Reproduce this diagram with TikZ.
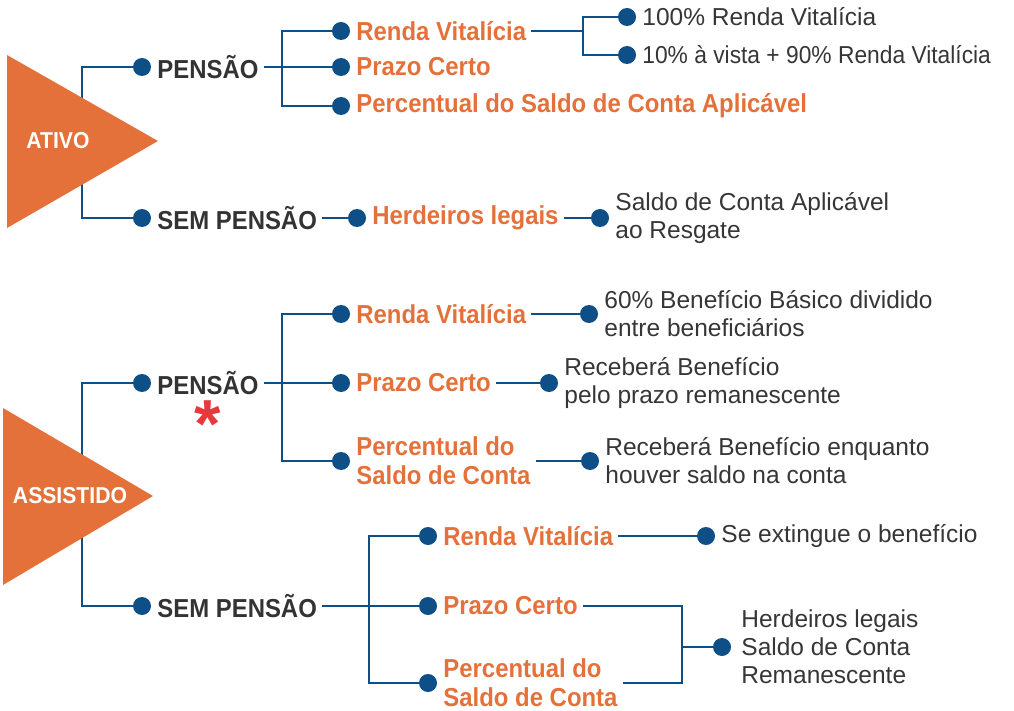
\documentclass[tikz,border=0pt]{standalone}
\usepackage{fontspec}
\setmainfont{Liberation Sans}
\newfontfamily\condfont{Liberation Sans}[FakeStretch=0.92]
\newfontfamily\narrowfont{Liberation Sans}[FakeStretch=0.93]
\usepackage{xcolor}
\usetikzlibrary{positioning}
\definecolor{linkblue}{HTML}{0F4F87}
\definecolor{rootorange}{HTML}{E37139}
\definecolor{optorange}{HTML}{E5713A}
\definecolor{darktext}{HTML}{333333}
\definecolor{infogray}{HTML}{363636}
\definecolor{astred}{HTML}{E8383D}
\tikzset{
  dot/.style={circle, fill=linkblue, inner sep=0pt, minimum size=18pt},
  link/.style={draw=linkblue, line width=2.5pt},
  root/.style={text=white, inner sep=0pt, font=\condfont\bfseries\fontsize{23}{26}\selectfont},
  main/.style={text=darktext, inner xsep=5pt, inner ysep=0pt, align=left, font=\condfont\bfseries\fontsize{26}{29}\selectfont},
  opt/.style={main, text=optorange},
  info/.style={text=infogray, inner xsep=5pt, inner ysep=0pt, align=left, font=\fontsize{24.5}{28}\selectfont},
}

\begin{document}
\begin{tikzpicture}[x=1pt, y=-1pt]
    \useasboundingbox (0,0) rectangle (1014,711);

    % ativo
    \coordinate (trunkA) at (82,141);
    \node[dot] (dPenA) at (142,67) {};
    \node[main, right=1pt of dPenA] (penA) {PENSÃO};
    \node[dot] (dSemA) at (142,218) {};
    \node[main, right=1pt of dSemA] (semA) {SEM PENSÃO};
    \coordinate (jPenA) at (282,67);
    \node[dot] (dRvA) at (341,31) {};
    \node[opt, right=1pt of dRvA] (rvA) {Renda Vitalícia};
    \node[dot] (dPcA) at (341,67) {};
    \node[opt, right=1pt of dPcA] (pcA) {Prazo Certo};
    \node[dot] (dPsA) at (341,106) {};
    \node[opt, right=1pt of dPsA] (psA) {Percentual do Saldo de Conta Aplicável};
    \coordinate (jRvA) at (583,36);
    \node[dot] (dRv100) at (627,17) {};
    \node[info, right=1pt of dRv100] (rv100) {100\% Renda Vitalícia};
    \node[dot] (dRv10) at (627,55) {};
    \node[info, right=1pt of dRv10, font=\narrowfont\fontsize{24.5}{28}\selectfont] (rv10) {10\% à vista + 90\% Renda Vitalícia};
    \node[dot] (dHlA) at (357,218) {};
    \node[opt, right=1pt of dHlA] (hlA) {Herdeiros legais};
    \node[dot] (dSaldoA) at (600,218) {};
    \node[info, right=1pt of dSaldoA] (saldoA) {Saldo de Conta Aplicável\\ao Resgate};

    % assistido
    \coordinate (trunkB) at (82,496);
    \node[dot] (dPenB) at (142,383) {};
    \node[main, right=1pt of dPenB] (penB) {PENSÃO};
    \node[text=astred, inner sep=0pt, font=\bfseries\fontsize{68}{68}\selectfont] (ast) at (208,424) {*};
    \node[dot] (dSemB) at (142,606) {};
    \node[main, right=1pt of dSemB] (semB) {SEM PENSÃO};
    \coordinate (jPenB) at (282,383);
    \node[dot] (dRvB) at (341,314) {};
    \node[opt, right=1pt of dRvB] (rvB) {Renda Vitalícia};
    \node[dot] (dPcB) at (341,383) {};
    \node[opt, right=1pt of dPcB] (pcB) {Prazo Certo};
    \node[dot] (dPsB) at (341,461) {};
    \node[opt, right=1pt of dPsB] (psB) {Percentual do\\Saldo de Conta};
    \node[dot] (dBasico) at (589,314) {};
    \node[info, right=1pt of dBasico] (basico) {60\% Benefício Básico dividido\\entre beneficiários};
    \node[dot] (dPrazo) at (549,383) {};
    \node[info, right=1pt of dPrazo] (prazo) {Receberá Benefício\\pelo prazo remanescente};
    \node[dot] (dEnq) at (590,461) {};
    \node[info, right=1pt of dEnq] (enq) {Receberá Benefício enquanto\\houver saldo na conta};

    \coordinate (jSemB) at (369,606);
    \node[dot] (dRvC) at (428,536) {};
    \node[opt, right=1pt of dRvC] (rvC) {Renda Vitalícia};
    \node[dot] (dPcC) at (428,606) {};
    \node[opt, right=1pt of dPcC] (pcC) {Prazo Certo};
    \node[dot] (dPsC) at (428,683) {};
    \node[opt, right=1pt of dPsC] (psC) {Percentual do\\Saldo de Conta};
    \node[dot] (dExt) at (706,536) {};
    \node[info, right=1pt of dExt] (ext) {Se extingue o benefício};
    \coordinate (jHer) at (682,647);
    \node[dot] (dHer) at (722,647) {};
    \node[info, right=5pt of dHer] (her) {Herdeiros legais\\Saldo de Conta\\Remanescente};

    % connectors
    \draw[link] (dPenA) -| (trunkA) |- (dSemA);
    \draw[link] (penA) -- (dPcA);
    \draw[link] (dRvA) -| (jPenA) |- (dPsA);
    \draw[link] (rvA) -- (rvA -| jRvA);
    \draw[link] (dRv100) -| (jRvA) |- (dRv10);
    \draw[link] (semA) -- (dHlA);
    \draw[link] (hlA) -- (dSaldoA);

    \draw[link] (dPenB) -| (trunkB) |- (dSemB);
    \draw[link] (penB) -- (dPcB);
    \draw[link] (dRvB) -| (jPenB) |- (dPsB);
    \draw[link] (rvB) -- (dBasico);
    \draw[link] (pcB) -- (dPrazo);
    \draw[link] (psB) -- (dEnq);
    \draw[link] (semB) -- (dPcC);
    \draw[link] (dRvC) -| (jSemB) |- (dPsC);
    \draw[link] (rvC) -- (dExt);
    \draw[link] (pcC) -| (jHer);
    \draw[link] (psC) -| (jHer);
    \draw[link] (jHer) -- (dHer);

    % roots
    \fill[rootorange] (7,55) -- (158,141) -- (7,228) -- cycle;
    \node[root] (ativo) at (58,141) {ATIVO};
    \fill[rootorange] (3,408) -- (153,496) -- (3,585) -- cycle;
    \node[root] (assist) at (70,496) {ASSISTIDO};
\end{tikzpicture}
\end{document}
